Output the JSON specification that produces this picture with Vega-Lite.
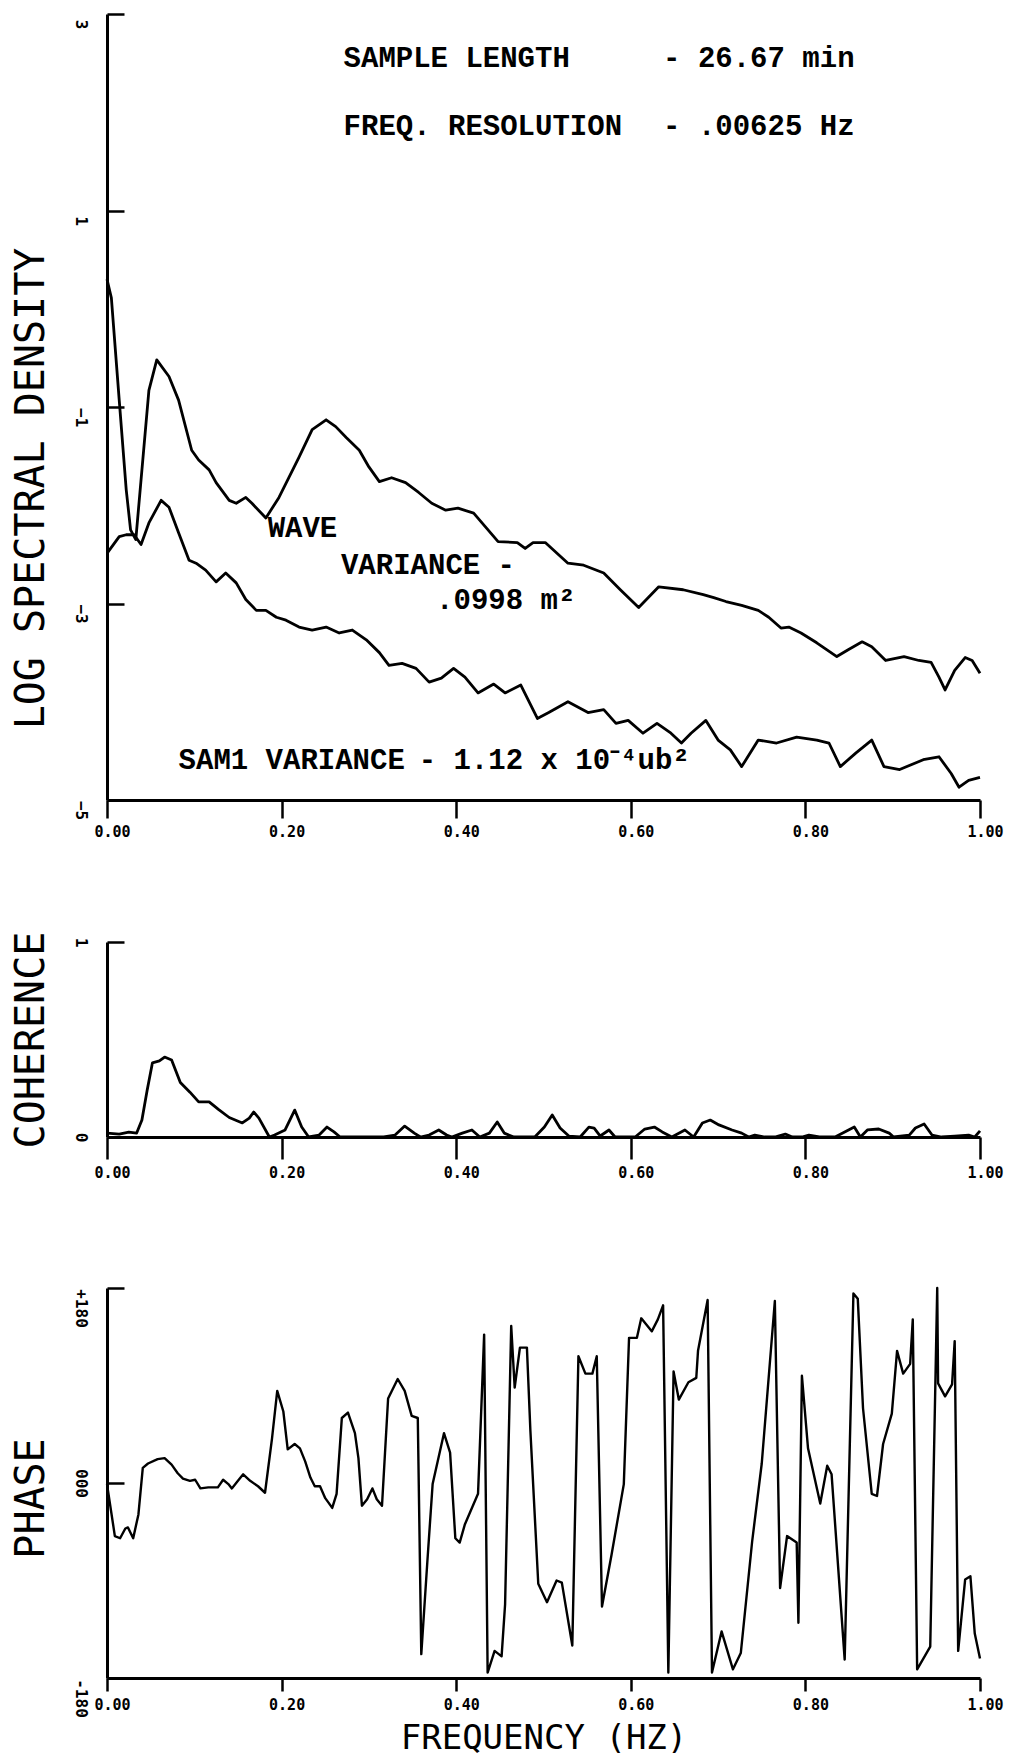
{
  "$schema": "https://vega.github.io/schema/vega-lite/v6.json",
  "background": "white",
  "padding": {"left": 11, "top": 12, "right": 10, "bottom": 2},
  "spacing": 92,
  "config": {
    "view": {"stroke": null},
    "axis": {
      "grid": false,
      "domainColor": "black",
      "domainWidth": 3,
      "tickColor": "black",
      "tickWidth": 2.5,
      "labelColor": "black",
      "titleColor": "black",
      "labelFont": "DejaVu Sans Mono",
      "labelFontSize": 15,
      "labelFontWeight": "bold",
      "titleFont": "DejaVu Sans Mono",
      "titleFontWeight": "normal",
      "titleFontSize": 40
    },
    "axisX": {"tickSize": 18, "labelPadding": 6, "labelFlush": false, "labelOffset": 5},
    "axisY": {"tickSize": -17, "labelPadding": 36, "labelAngle": 90, "labelAlign": "center", "labelBaseline": "top", "titlePadding": 21, "labelFontSize": 16, "format": "d"}
  },
  "datasets": {
    "spectra": [
      {"f":0.000,"v":0.30,"s":"wave"},{"f":0.005,"v":0.11,"s":"wave"},{"f":0.014,"v":-0.93,"s":"wave"},{"f":0.022,"v":-1.84,"s":"wave"},{"f":0.027,"v":-2.25,"s":"wave"},{"f":0.033,"v":-2.35,"s":"wave"},{"f":0.040,"v":-1.64,"s":"wave"},{"f":0.048,"v":-0.83,"s":"wave"},{"f":0.057,"v":-0.52,"s":"wave"},{"f":0.071,"v":-0.69,"s":"wave"},{"f":0.082,"v":-0.93,"s":"wave"},{"f":0.097,"v":-1.44,"s":"wave"},{"f":0.105,"v":-1.54,"s":"wave"},{"f":0.117,"v":-1.64,"s":"wave"},{"f":0.125,"v":-1.77,"s":"wave"},{"f":0.140,"v":-1.95,"s":"wave"},{"f":0.148,"v":-1.98,"s":"wave"},{"f":0.159,"v":-1.92,"s":"wave"},{"f":0.166,"v":-1.98,"s":"wave"},{"f":0.182,"v":-2.13,"s":"wave"},{"f":0.197,"v":-1.92,"s":"wave"},{"f":0.220,"v":-1.51,"s":"wave"},{"f":0.235,"v":-1.23,"s":"wave"},{"f":0.251,"v":-1.13,"s":"wave"},{"f":0.262,"v":-1.20,"s":"wave"},{"f":0.274,"v":-1.31,"s":"wave"},{"f":0.289,"v":-1.44,"s":"wave"},{"f":0.300,"v":-1.61,"s":"wave"},{"f":0.312,"v":-1.76,"s":"wave"},{"f":0.326,"v":-1.72,"s":"wave"},{"f":0.342,"v":-1.77,"s":"wave"},{"f":0.357,"v":-1.87,"s":"wave"},{"f":0.372,"v":-1.98,"s":"wave"},{"f":0.388,"v":-2.05,"s":"wave"},{"f":0.402,"v":-2.03,"s":"wave"},{"f":0.420,"v":-2.08,"s":"wave"},{"f":0.448,"v":-2.37,"s":"wave"},{"f":0.470,"v":-2.38,"s":"wave"},{"f":0.479,"v":-2.44,"s":"wave"},{"f":0.488,"v":-2.38,"s":"wave"},{"f":0.502,"v":-2.38,"s":"wave"},{"f":0.528,"v":-2.59,"s":"wave"},{"f":0.546,"v":-2.61,"s":"wave"},{"f":0.569,"v":-2.69,"s":"wave"},{"f":0.588,"v":-2.86,"s":"wave"},{"f":0.609,"v":-3.04,"s":"wave"},{"f":0.632,"v":-2.83,"s":"wave"},{"f":0.660,"v":-2.86,"s":"wave"},{"f":0.683,"v":-2.91,"s":"wave"},{"f":0.695,"v":-2.94,"s":"wave"},{"f":0.709,"v":-2.98,"s":"wave"},{"f":0.727,"v":-3.02,"s":"wave"},{"f":0.746,"v":-3.07,"s":"wave"},{"f":0.758,"v":-3.14,"s":"wave"},{"f":0.772,"v":-3.25,"s":"wave"},{"f":0.781,"v":-3.24,"s":"wave"},{"f":0.795,"v":-3.30,"s":"wave"},{"f":0.813,"v":-3.40,"s":"wave"},{"f":0.836,"v":-3.54,"s":"wave"},{"f":0.849,"v":-3.47,"s":"wave"},{"f":0.865,"v":-3.39,"s":"wave"},{"f":0.876,"v":-3.44,"s":"wave"},{"f":0.892,"v":-3.58,"s":"wave"},{"f":0.913,"v":-3.54,"s":"wave"},{"f":0.930,"v":-3.58,"s":"wave"},{"f":0.944,"v":-3.60,"s":"wave"},{"f":0.953,"v":-3.75,"s":"wave"},{"f":0.960,"v":-3.88,"s":"wave"},{"f":0.971,"v":-3.68,"s":"wave"},{"f":0.983,"v":-3.55,"s":"wave"},{"f":0.991,"v":-3.58,"s":"wave"},{"f":1.000,"v":-3.71,"s":"wave"},
      {"f":0.000,"v":-2.49,"s":"sam1"},{"f":0.014,"v":-2.32,"s":"sam1"},{"f":0.022,"v":-2.30,"s":"sam1"},{"f":0.031,"v":-2.30,"s":"sam1"},{"f":0.039,"v":-2.40,"s":"sam1"},{"f":0.048,"v":-2.18,"s":"sam1"},{"f":0.062,"v":-1.95,"s":"sam1"},{"f":0.071,"v":-2.02,"s":"sam1"},{"f":0.082,"v":-2.28,"s":"sam1"},{"f":0.094,"v":-2.56,"s":"sam1"},{"f":0.102,"v":-2.59,"s":"sam1"},{"f":0.113,"v":-2.66,"s":"sam1"},{"f":0.125,"v":-2.78,"s":"sam1"},{"f":0.136,"v":-2.69,"s":"sam1"},{"f":0.148,"v":-2.79,"s":"sam1"},{"f":0.159,"v":-2.96,"s":"sam1"},{"f":0.171,"v":-3.07,"s":"sam1"},{"f":0.182,"v":-3.07,"s":"sam1"},{"f":0.194,"v":-3.14,"s":"sam1"},{"f":0.205,"v":-3.17,"s":"sam1"},{"f":0.220,"v":-3.24,"s":"sam1"},{"f":0.235,"v":-3.27,"s":"sam1"},{"f":0.251,"v":-3.24,"s":"sam1"},{"f":0.266,"v":-3.30,"s":"sam1"},{"f":0.281,"v":-3.27,"s":"sam1"},{"f":0.297,"v":-3.37,"s":"sam1"},{"f":0.312,"v":-3.50,"s":"sam1"},{"f":0.323,"v":-3.63,"s":"sam1"},{"f":0.338,"v":-3.61,"s":"sam1"},{"f":0.354,"v":-3.66,"s":"sam1"},{"f":0.369,"v":-3.80,"s":"sam1"},{"f":0.383,"v":-3.76,"s":"sam1"},{"f":0.397,"v":-3.66,"s":"sam1"},{"f":0.410,"v":-3.75,"s":"sam1"},{"f":0.425,"v":-3.91,"s":"sam1"},{"f":0.443,"v":-3.82,"s":"sam1"},{"f":0.456,"v":-3.91,"s":"sam1"},{"f":0.474,"v":-3.83,"s":"sam1"},{"f":0.493,"v":-4.17,"s":"sam1"},{"f":0.506,"v":-4.11,"s":"sam1"},{"f":0.528,"v":-4.00,"s":"sam1"},{"f":0.551,"v":-4.11,"s":"sam1"},{"f":0.569,"v":-4.08,"s":"sam1"},{"f":0.583,"v":-4.22,"s":"sam1"},{"f":0.597,"v":-4.19,"s":"sam1"},{"f":0.614,"v":-4.32,"s":"sam1"},{"f":0.630,"v":-4.22,"s":"sam1"},{"f":0.646,"v":-4.32,"s":"sam1"},{"f":0.658,"v":-4.42,"s":"sam1"},{"f":0.669,"v":-4.32,"s":"sam1"},{"f":0.686,"v":-4.19,"s":"sam1"},{"f":0.700,"v":-4.39,"s":"sam1"},{"f":0.714,"v":-4.49,"s":"sam1"},{"f":0.727,"v":-4.66,"s":"sam1"},{"f":0.746,"v":-4.39,"s":"sam1"},{"f":0.767,"v":-4.42,"s":"sam1"},{"f":0.790,"v":-4.36,"s":"sam1"},{"f":0.813,"v":-4.39,"s":"sam1"},{"f":0.827,"v":-4.42,"s":"sam1"},{"f":0.840,"v":-4.66,"s":"sam1"},{"f":0.858,"v":-4.52,"s":"sam1"},{"f":0.876,"v":-4.39,"s":"sam1"},{"f":0.890,"v":-4.66,"s":"sam1"},{"f":0.908,"v":-4.69,"s":"sam1"},{"f":0.935,"v":-4.59,"s":"sam1"},{"f":0.953,"v":-4.56,"s":"sam1"},{"f":0.967,"v":-4.73,"s":"sam1"},{"f":0.976,"v":-4.87,"s":"sam1"},{"f":0.987,"v":-4.80,"s":"sam1"},{"f":1.000,"v":-4.77,"s":"sam1"}
    ],
    "notes": [
      {"f":0.271,"v":2.55,"label":"SAMPLE LENGTH"},
      {"f":0.637,"v":2.55,"label":"- 26.67 min"},
      {"f":0.271,"v":1.86,"label":"FREQ. RESOLUTION"},
      {"f":0.637,"v":1.86,"label":"- .00625 Hz"},
      {"f":0.184,"v":-2.23,"label":"WAVE"},
      {"f":0.268,"v":-2.61,"label":"VARIANCE -"},
      {"f":0.377,"v":-2.96,"label":".0998 m²"},
      {"f":0.082,"v":-4.59,"label":"SAM1 VARIANCE"},
      {"f":0.357,"v":-4.59,"label":"- 1.12 x 10⁻⁴ub²"}
    ],
    "coherence": [
      {"f":0.000,"c":0.02},{"f":0.014,"c":0.015},{"f":0.025,"c":0.025},{"f":0.034,"c":0.02},{"f":0.040,"c":0.087},{"f":0.046,"c":0.24},{"f":0.052,"c":0.38},{"f":0.060,"c":0.39},{"f":0.066,"c":0.41},{"f":0.074,"c":0.395},{"f":0.084,"c":0.28},{"f":0.095,"c":0.23},{"f":0.105,"c":0.18},{"f":0.117,"c":0.18},{"f":0.128,"c":0.14},{"f":0.140,"c":0.10},{"f":0.155,"c":0.072},{"f":0.163,"c":0.097},{"f":0.168,"c":0.128},{"f":0.174,"c":0.097},{"f":0.186,"c":0.0},{"f":0.192,"c":0.01},{"f":0.204,"c":0.036},{"f":0.215,"c":0.138},{"f":0.223,"c":0.051},{"f":0.231,"c":0.0},{"f":0.243,"c":0.01},{"f":0.252,"c":0.051},{"f":0.260,"c":0.026},{"f":0.267,"c":0.0},{"f":0.281,"c":0.0},{"f":0.296,"c":0.0},{"f":0.307,"c":0.0},{"f":0.317,"c":0.0},{"f":0.330,"c":0.01},{"f":0.341,"c":0.056},{"f":0.352,"c":0.02},{"f":0.359,"c":0.0},{"f":0.369,"c":0.01},{"f":0.380,"c":0.036},{"f":0.389,"c":0.01},{"f":0.395,"c":0.0},{"f":0.407,"c":0.02},{"f":0.418,"c":0.036},{"f":0.427,"c":0.0},{"f":0.438,"c":0.02},{"f":0.447,"c":0.077},{"f":0.455,"c":0.02},{"f":0.466,"c":0.0},{"f":0.479,"c":0.0},{"f":0.490,"c":0.0},{"f":0.501,"c":0.051},{"f":0.510,"c":0.113},{"f":0.519,"c":0.046},{"f":0.529,"c":0.005},{"f":0.542,"c":0.0},{"f":0.552,"c":0.051},{"f":0.558,"c":0.046},{"f":0.565,"c":0.005},{"f":0.575,"c":0.036},{"f":0.582,"c":0.0},{"f":0.605,"c":0.0},{"f":0.616,"c":0.041},{"f":0.627,"c":0.051},{"f":0.636,"c":0.026},{"f":0.647,"c":0.0},{"f":0.662,"c":0.036},{"f":0.672,"c":0.0},{"f":0.682,"c":0.072},{"f":0.691,"c":0.087},{"f":0.701,"c":0.062},{"f":0.716,"c":0.036},{"f":0.727,"c":0.02},{"f":0.735,"c":0.0},{"f":0.742,"c":0.01},{"f":0.753,"c":0.0},{"f":0.765,"c":0.0},{"f":0.777,"c":0.015},{"f":0.785,"c":0.0},{"f":0.796,"c":0.0},{"f":0.804,"c":0.01},{"f":0.816,"c":0.0},{"f":0.834,"c":0.0},{"f":0.845,"c":0.026},{"f":0.856,"c":0.051},{"f":0.863,"c":0.0},{"f":0.871,"c":0.036},{"f":0.884,"c":0.041},{"f":0.896,"c":0.02},{"f":0.901,"c":0.0},{"f":0.919,"c":0.01},{"f":0.926,"c":0.046},{"f":0.936,"c":0.067},{"f":0.945,"c":0.01},{"f":0.956,"c":0.0},{"f":0.971,"c":0.005},{"f":0.987,"c":0.01},{"f":0.994,"c":0.0},{"f":1.000,"c":0.031}
    ],
    "phase": [
      {"f":0.000,"p":-1},{"f":0.009,"p":-49},{"f":0.015,"p":-51},{"f":0.021,"p":-42},{"f":0.024,"p":-41},{"f":0.030,"p":-51},{"f":0.036,"p":-29},{"f":0.041,"p":14},{"f":0.047,"p":18},{"f":0.058,"p":22},{"f":0.066,"p":23},{"f":0.074,"p":17},{"f":0.081,"p":9},{"f":0.087,"p":4},{"f":0.095,"p":2},{"f":0.101,"p":3},{"f":0.107,"p":-5},{"f":0.116,"p":-4},{"f":0.127,"p":-4},{"f":0.133,"p":3},{"f":0.139,"p":-1},{"f":0.143,"p":-5},{"f":0.150,"p":2},{"f":0.156,"p":8},{"f":0.164,"p":2},{"f":0.173,"p":-3},{"f":0.181,"p":-9},{"f":0.189,"p":41},{"f":0.195,"p":85},{"f":0.202,"p":66},{"f":0.207,"p":31},{"f":0.215,"p":36},{"f":0.221,"p":32},{"f":0.227,"p":20},{"f":0.233,"p":5},{"f":0.238,"p":-3},{"f":0.244,"p":-3},{"f":0.250,"p":-14},{"f":0.258,"p":-23},{"f":0.263,"p":-10},{"f":0.269,"p":60},{"f":0.276,"p":65},{"f":0.284,"p":46},{"f":0.288,"p":23},{"f":0.292,"p":-21},{"f":0.298,"p":-15},{"f":0.304,"p":-5},{"f":0.309,"p":-15},{"f":0.315,"p":-21},{"f":0.322,"p":78},{"f":0.333,"p":96},{"f":0.341,"p":85},{"f":0.349,"p":62},{"f":0.356,"p":60},{"f":0.360,"p":-158},{"f":0.367,"p":-72},{"f":0.373,"p":-1},{"f":0.386,"p":46},{"f":0.393,"p":28},{"f":0.399,"p":-51},{"f":0.404,"p":-55},{"f":0.410,"p":-38},{"f":0.425,"p":-10},{"f":0.432,"p":137},{"f":0.436,"p":-175},{"f":0.444,"p":-155},{"f":0.452,"p":-160},{"f":0.456,"p":-112},{"f":0.463,"p":145},{"f":0.467,"p":88},{"f":0.473,"p":125},{"f":0.481,"p":125},{"f":0.485,"p":48},{"f":0.494,"p":-93},{"f":0.504,"p":-110},{"f":0.515,"p":-90},{"f":0.521,"p":-92},{"f":0.533,"p":-150},{"f":0.540,"p":117},{"f":0.548,"p":101},{"f":0.556,"p":101},{"f":0.561,"p":117},{"f":0.567,"p":-114},{"f":0.578,"p":-66},{"f":0.592,"p":-1},{"f":0.598,"p":134},{"f":0.607,"p":134},{"f":0.612,"p":152},{"f":0.624,"p":140},{"f":0.631,"p":151},{"f":0.637,"p":164},{"f":0.643,"p":-175},{"f":0.649,"p":103},{"f":0.655,"p":77},{"f":0.666,"p":93},{"f":0.675,"p":97},{"f":0.677,"p":122},{"f":0.688,"p":169},{"f":0.693,"p":-175},{"f":0.704,"p":-137},{"f":0.717,"p":-172},{"f":0.726,"p":-157},{"f":0.739,"p":-54},{"f":0.750,"p":18},{"f":0.765,"p":168},{"f":0.771,"p":-97},{"f":0.779,"p":-49},{"f":0.790,"p":-55},{"f":0.792,"p":-129},{"f":0.796,"p":99},{"f":0.803,"p":32},{"f":0.817,"p":-19},{"f":0.825,"p":16},{"f":0.830,"p":8},{"f":0.845,"p":-163},{"f":0.855,"p":175},{"f":0.860,"p":170},{"f":0.866,"p":69},{"f":0.876,"p":-10},{"f":0.882,"p":-12},{"f":0.889,"p":36},{"f":0.899,"p":64},{"f":0.905,"p":122},{"f":0.912,"p":101},{"f":0.920,"p":110},{"f":0.923,"p":151},{"f":0.928,"p":-172},{"f":0.943,"p":-151},{"f":0.951,"p":180},{"f":0.952,"p":92},{"f":0.960,"p":80},{"f":0.968,"p":91},{"f":0.971,"p":131},{"f":0.975,"p":-155},{"f":0.983,"p":-89},{"f":0.989,"p":-86},{"f":0.994,"p":-139},{"f":1.000,"p":-162}
    ]
  },
  "vconcat": [
    {
      "width": 873,
      "height": 786,
      "layer": [
        {
          "data": {"name": "spectra"},
          "mark": {"type": "line", "color": "black", "strokeWidth": 2.8, "strokeJoin": "round"},
          "encoding": {
            "x": {"field": "f", "type": "quantitative", "scale": {"domain": [0, 1], "nice": false, "zero": false},
                  "axis": {"values": [0, 0.2, 0.4, 0.6, 0.8, 1], "format": ".2f", "title": null}},
            "y": {"field": "v", "type": "quantitative", "scale": {"domain": [-5, 3], "nice": false, "zero": false},
                  "axis": {"values": [3, 1, -1, -3, -5], "title": "LOG SPECTRAL DENSITY", "labelOffset": 10, "titleY": 474}},
            "detail": {"field": "s"}
          }
        },
        {
          "data": {"name": "notes"},
          "mark": {"type": "text", "align": "left", "baseline": "middle", "font": "Liberation Mono", "fontWeight": "bold", "fontSize": 29, "color": "black"},
          "encoding": {
            "x": {"field": "f", "type": "quantitative"},
            "y": {"field": "v", "type": "quantitative"},
            "text": {"field": "label"}
          }
        }
      ]
    },
    {
      "spacing": 106,
      "vconcat": [
        {
          "width": 873,
          "height": 195,
          "data": {"name": "coherence"},
          "mark": {"type": "line", "color": "black", "strokeWidth": 2.8, "strokeJoin": "round"},
          "encoding": {
            "x": {"field": "f", "type": "quantitative", "scale": {"domain": [0, 1], "nice": false, "zero": false},
                  "axis": {"values": [0, 0.2, 0.4, 0.6, 0.8, 1], "format": ".2f", "title": null, "tickSize": 22}},
            "y": {"field": "c", "type": "quantitative", "scale": {"domain": [0, 1], "nice": false, "zero": false},
                  "axis": {"values": [0, 1], "title": "COHERENCE", "labelOffset": 0}}
          }
        },
        {
          "width": 873,
          "height": 390,
          "data": {"name": "phase"},
          "mark": {"type": "line", "color": "black", "strokeWidth": 2.4, "strokeJoin": "round"},
          "encoding": {
            "x": {"field": "f", "type": "quantitative", "scale": {"domain": [0, 1], "nice": false, "zero": false},
                  "axis": {"values": [0, 0.2, 0.4, 0.6, 0.8, 1], "format": ".2f", "title": "FREQUENCY (HZ)", "tickSize": 13, "titlePadding": 9, "titleFontSize": 34}},
            "y": {"field": "p", "type": "quantitative", "scale": {"domain": [-180, 180], "nice": false, "zero": false},
                  "axis": {"values": [-180, 0, 180], "title": "PHASE", "titleY": 210,
                           "labelExpr": "datum.value > 0 ? '+180' : (datum.value < 0 ? '-180' : '000')",
                           "labelOffset": {"condition": {"test": "datum.value != 0", "value": 20}, "value": 0}}}
          }
        }
      ]
    }
  ]
}
